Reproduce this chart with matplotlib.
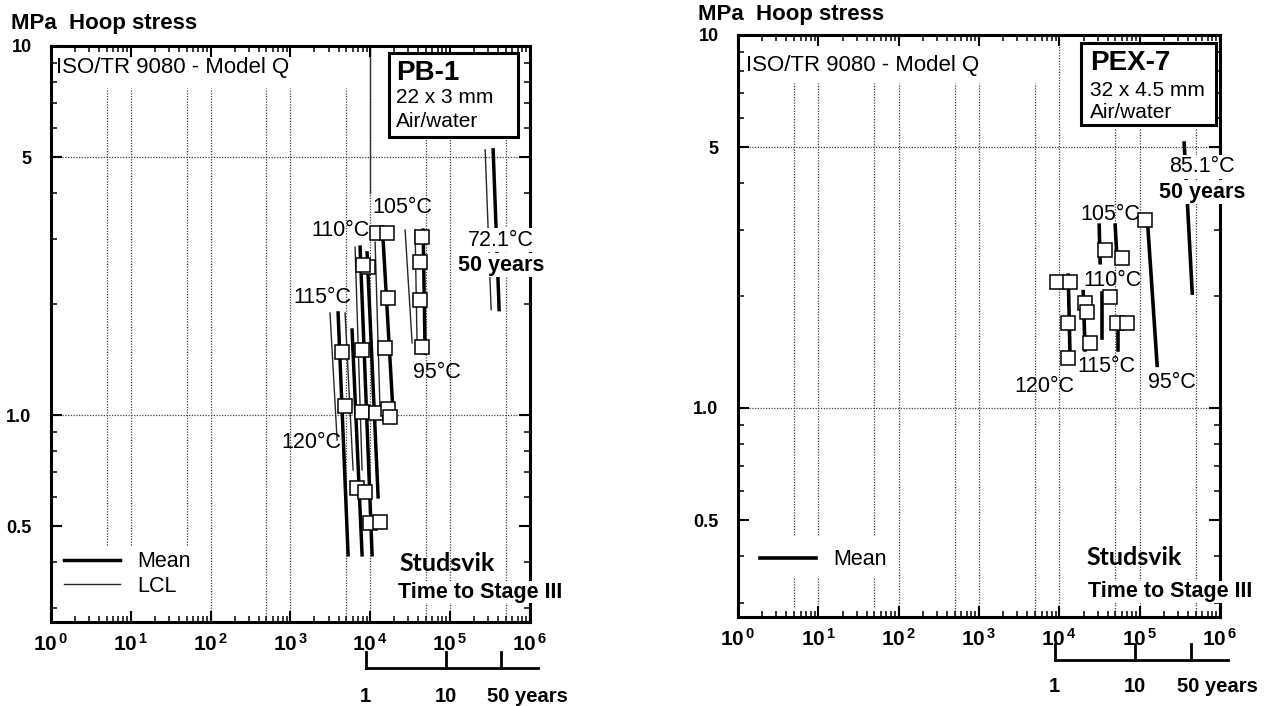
import numpy as np
import matplotlib.pyplot as plt
from matplotlib.patches import Rectangle
from matplotlib import transforms as mtransforms
from matplotlib.ticker import LogLocator, FixedLocator, FixedFormatter, NullFormatter

plt.rcParams['font.family'] = ['Liberation Sans', 'DejaVu Sans']
plt.rcParams['mathtext.fontset'] = 'custom'
plt.rcParams['mathtext.rm'] = 'Liberation Sans'
plt.rcParams['mathtext.bf'] = 'Liberation Sans:bold'

# --- data: PB-1 (left) ---
pb_pts_t = [12200, 16200, 9400, 8100, 16700, 44500, 42000, 42000, 44500,
            4450, 7900, 15400, 4800, 7900, 11800, 16700, 17700, 6800, 8600, 10000, 13300]
pb_pts_s = [3.11, 3.11, 2.52, 2.55, 2.08, 3.03, 2.60, 2.05, 1.53,
            1.48, 1.50, 1.52, 1.06, 1.02, 1.01, 1.04, 0.99, 0.634, 0.618, 0.51, 0.513]
# regression lines (start t, start S, end t, end S, kind)
pb_line_t0 = [3130, 3950, 4830, 5910, 6450, 7450, 9120, 11490, 14470, 27300, 36400, 45900, 274800, 345800]
pb_line_s0 = [1.89, 1.89, 1.89, 1.70, 2.85, 2.85, 2.75, 2.94, 2.98, 3.17, 3.17, 3.17, 5.23, 5.23]
pb_line_t1 = [3840, 5270, 6090, 7890, 7890, 10540, 12530, 13280, 19310, 33400, 38600, 48600, 326400, 411000]
pb_line_s1 = [0.855, 0.418, 0.71, 0.418, 0.71, 0.418, 0.60, 1.01, 1.01, 1.57, 1.53, 1.47, 1.93, 1.93]
pb_line_kind = ['LCL', 'Mean', 'LCL', 'Mean', 'LCL', 'Mean', 'Mean', 'LCL', 'Mean',
                'LCL', 'LCL', 'Mean', 'LCL', 'Mean']
pb_temp_labels = ['105°C', '110°C', '115°C', '95°C', '120°C']
pb_temp_t = [25000, 4190, 2490, 68700, 1810]
pb_temp_s = [3.64, 3.17, 2.08, 1.30, 0.84]
pb_ref = ('72.1°C', 435000, 2.98, 2.55)

# --- data: PEX-7 (right) ---
pex_pts_t = [117000, 37200, 60500, 9390, 13600, 20900, 22200, 42900, 12900, 52500, 69600, 24100, 12900]
pex_pts_s = [3.19, 2.65, 2.52, 2.18, 2.18, 1.91, 1.81, 1.98, 1.69, 1.69, 1.69, 1.49, 1.36]
pex_line_t0 = [31300, 49500, 124000, 358000, 12900, 19800, 34100, 54000]
pex_line_s0 = [3.09, 3.09, 3.25, 5.13, 2.27, 2.05, 2.03, 1.62]
pex_line_t1 = [32200, 52500, 165000, 451000, 13600, 20900, 34100, 54000]
pex_line_s1 = [2.45, 2.45, 1.30, 2.03, 1.37, 1.43, 1.54, 1.43]
pex_temp_labels = ['105°C', '110°C', '115°C', '95°C', '120°C']
pex_temp_t = [42900, 45500, 38300, 254000, 6470]
pex_temp_s = [3.31, 2.20, 1.29, 1.17, 1.14]
pex_ref = ('85.1°C', 600000, 4.43, 3.79)

# grid / axis
x_decades = [0, 1, 2, 3, 4, 5, 6]
y_major = [0.5, 1.0, 5, 10]
y_major_labels = ['0.5', '1.0', '5', '10']
grid_x = [5, 10, 50, 100, 500, 1000, 5000, 10000, 50000, 100000, 500000]
grid_y = [1.0, 5]
hours_per_year = 8760
year_ticks = [1, 10, 50]
year_labels = ['1', '10', '50 years']

fig = plt.figure(figsize=(12.81, 7.06), dpi=100)
ax1 = fig.add_axes([0.0398, 0.1190, 0.3739, 0.8159])
ax2 = fig.add_axes([0.5761, 0.1261, 0.3763, 0.8244])

TXT = 15.5
GRID = dict(color='0.25', lw=0.9, ls=(0, (1, 1.2)), zorder=1)


def setup(ax):
    ax.set_xscale('log')
    ax.set_yscale('log')
    ax.set_xlim(1, 1e6)
    ax.set_ylim(0.275, 10)
    ax.xaxis.set_major_locator(FixedLocator([10.0 ** k for k in x_decades]))
    ax.xaxis.set_major_formatter(FixedFormatter([r'$\mathbf{10^{\,%d}}$' % k for k in x_decades]))
    ax.xaxis.set_minor_locator(LogLocator(base=10, subs=np.arange(2, 10)))
    ax.xaxis.set_minor_formatter(NullFormatter())
    ax.yaxis.set_major_locator(FixedLocator(y_major))
    ax.yaxis.set_major_formatter(FixedFormatter(y_major_labels))
    ax.yaxis.set_minor_locator(LogLocator(base=10, subs=np.arange(1, 10)))
    ax.yaxis.set_minor_formatter(NullFormatter())
    ax.tick_params(which='both', direction='in', top=True, right=True)
    ax.tick_params(which='major', length=8, width=1.5)
    ax.tick_params(which='minor', length=4, width=1.1)
    ax.tick_params(axis='x', which='major', pad=8, labelsize=15)
    ax.tick_params(axis='y', which='major', pad=14, labelsize=13)
    for lab in ax.get_yticklabels():
        lab.set_fontweight('bold')
    for sp in ax.spines.values():
        sp.set_linewidth(2.2)
    for g in grid_y:
        ax.axhline(g, **GRID)


def years_scale(ax, y_bar, y_lab):
    tr = mtransforms.blended_transform_factory(ax.transData, ax.transAxes)
    tt = [y * hours_per_year for y in year_ticks]
    ax.plot([tt[0], 1.25e6], [y_bar, y_bar], transform=tr, color='k', lw=2, clip_on=False)
    for t, lab in zip(tt, year_labels):
        ax.plot([t, t], [y_bar, y_bar + 0.028], transform=tr, color='k', lw=2, clip_on=False)
        if lab == year_labels[-1]:
            ax.annotate(lab, xy=(t, y_lab), xycoords=tr, xytext=(-10, 0), textcoords='offset points',
                        ha='left', va='center', fontsize=14.5, fontweight='bold')
        else:
            ax.text(t, y_lab, lab, transform=tr, ha='center', va='center', fontsize=14.5, fontweight='bold')


def info_box(ax, rect, x, ys, lines):
    ax.add_patch(Rectangle(rect[:2], rect[2], rect[3], transform=ax.transAxes, fill=True,
                           facecolor='white', edgecolor='k', lw=2.2, zorder=4))
    ax.text(x, ys[0], lines[0], transform=ax.transAxes, fontsize=20, fontweight='bold', va='center', zorder=5)
    ax.text(x, ys[1], lines[1], transform=ax.transAxes, fontsize=15, va='center', zorder=5)
    ax.text(x, ys[2], lines[2], transform=ax.transAxes, fontsize=15, va='center', zorder=5)


# ---------------- left panel: PB-1 ----------------
setup(ax1)
for g in grid_x:
    if g <= 50:
        lo, hi = 0.444, 7.69
    elif g == 10000:
        lo, hi = 0.275, 10
    elif g > 10000:
        lo, hi = 0.275, 5.67
    else:
        lo, hi = 0.275, 7.69
    ax1.plot([g, g], [lo, hi], **GRID)
ax1.plot([10000, 10000], [4.0, 10], color='0.2', lw=1.0, zorder=1)

for t0, s0, t1, s1, k in zip(pb_line_t0, pb_line_s0, pb_line_t1, pb_line_s1, pb_line_kind):
    if k == 'Mean':
        ax1.plot([t0, t1], [s0, s1], color='k', lw=2.5, label='Mean', zorder=2)
    else:
        ax1.plot([t0, t1], [s0, s1], color='0.15', lw=1.0, label='LCL', zorder=2)
ax1.plot(pb_pts_t, pb_pts_s, 's', ms=10, mfc='white', mec='k', mew=1.1, ls='none', zorder=3)

for lab, t, s in zip(pb_temp_labels, pb_temp_t, pb_temp_s):
    ax1.text(t, s, lab, fontsize=TXT, ha='center', va='center', zorder=4)
ax1.text(pb_ref[1], pb_ref[2], pb_ref[0], fontsize=TXT, ha='center', va='center', zorder=6, clip_on=False,
         bbox=dict(facecolor='white', edgecolor='none', pad=1))
ax1.text(pb_ref[1], pb_ref[3], '50 years', fontsize=TXT, fontweight='bold', ha='center', va='center', zorder=6,
         clip_on=False, bbox=dict(facecolor='white', edgecolor='none', pad=1))

ax1.text(0.010, 0.962, 'ISO/TR 9080 - Model Q', transform=ax1.transAxes, fontsize=16, va='center')
info_box(ax1, (0.706, 0.842, 0.269, 0.146), 0.720, (0.953, 0.911, 0.868), ['PB-1', '22 x 3 mm', 'Air/water'])
h, l = ax1.get_legend_handles_labels()
leg_h = [h[l.index('Mean')], h[l.index('LCL')]]
ax1.legend(leg_h, ['Mean', 'LCL'], loc='lower left', bbox_to_anchor=(0.028, 0.044), frameon=False,
           fontsize=TXT, handlelength=2.6, handletextpad=0.8, labelspacing=0.15, borderpad=0, borderaxespad=0)
ax1.text(0.827, 0.102, 'Studsvik', transform=ax1.transAxes, family='Lato', fontweight='bold',
         fontsize=18, ha='center', va='center')
ax1.text(0.724, 0.052, 'Time to Stage III', transform=ax1.transAxes, fontsize=TXT, fontweight='bold',
         va='center', zorder=6, clip_on=False, bbox=dict(facecolor='white', edgecolor='none', pad=0.5))
years_scale(ax1, -0.080, -0.130)

# ---------------- right panel: PEX-7 ----------------
setup(ax2)
for g in grid_x:
    if g <= 50:
        ax2.plot([g, g], [0.457, 7.43], **GRID)
        ax2.plot([g, g], [0.292, 0.35], **GRID)
        continue
    if g == 10000:
        lo, hi = 0.275, 10
    elif g > 10000:
        lo, hi = 0.275, 5.6
    else:
        lo, hi = 0.275, 7.43
    ax2.plot([g, g], [lo, hi], **GRID)

for i, (t0, s0, t1, s1) in enumerate(zip(pex_line_t0, pex_line_s0, pex_line_t1, pex_line_s1)):
    ax2.plot([t0, t1], [s0, s1], color='k', lw=2.6, label='Mean' if i == 0 else None, zorder=2)
ax2.plot(pex_pts_t, pex_pts_s, 's', ms=10, mfc='white', mec='k', mew=1.1, ls='none', zorder=3)

for lab, t, s in zip(pex_temp_labels, pex_temp_t, pex_temp_s):
    ax2.text(t, s, lab, fontsize=TXT, ha='center', va='center', zorder=4)
ax2.text(pex_ref[1], pex_ref[2], pex_ref[0], fontsize=TXT, ha='center', va='center', zorder=6, clip_on=False,
         bbox=dict(facecolor='white', edgecolor='none', pad=1))
ax2.text(pex_ref[1], pex_ref[3], '50 years', fontsize=TXT, fontweight='bold', ha='center', va='center', zorder=6,
         clip_on=False, bbox=dict(facecolor='white', edgecolor='none', pad=1))

ax2.text(0.017, 0.948, 'ISO/TR 9080 - Model Q', transform=ax2.transAxes, fontsize=16, va='center')
info_box(ax2, (0.712, 0.845, 0.280, 0.141), 0.730, (0.952, 0.905, 0.866), ['PEX-7', '32 x 4.5 mm', 'Air/water'])
ax2.legend(loc='lower left', bbox_to_anchor=(0.045, 0.08), frameon=False, fontsize=TXT,
           handlelength=2.6, handletextpad=0.8, borderpad=0, borderaxespad=0)
ax2.text(0.822, 0.103, 'Studsvik', transform=ax2.transAxes, family='Lato', fontweight='bold',
         fontsize=18, ha='center', va='center')
ax2.text(0.726, 0.043, 'Time to Stage III', transform=ax2.transAxes, fontsize=TXT, fontweight='bold',
         va='center', zorder=6, clip_on=False, bbox=dict(facecolor='white', edgecolor='none', pad=0.5))
years_scale(ax2, -0.074, -0.120)

fig.text(0.0086, 0.967, 'MPa  Hoop stress', fontsize=16, fontweight='bold', va='center')
fig.text(0.545, 0.979, 'MPa  Hoop stress', fontsize=16, fontweight='bold', va='center')

fig.savefig('out.png', dpi=100)
